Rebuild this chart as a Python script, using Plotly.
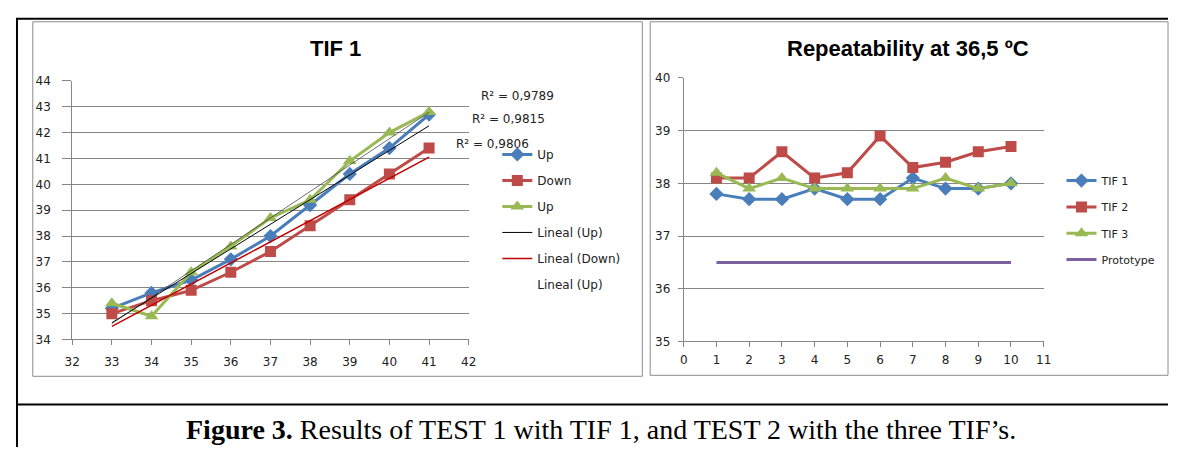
import numpy as np
import plotly.graph_objects as go

# figure sits inside the page's default 8px body margin
W, H = 1168, 446
OFF = 8

# ---- data: TIF 1 (TEST 1) ----
t1_x = [33, 34, 35, 36, 37, 38, 39, 40, 41]
up1 = [35.2, 35.8, 36.3, 37.1, 38.0, 39.2, 40.4, 41.4, 42.7]
down1 = [35.0, 35.5, 35.9, 36.6, 37.4, 38.4, 39.4, 40.4, 41.4]
up2 = [35.4, 34.9, 36.6, 37.6, 38.7, 39.4, 40.9, 42.0, 42.8]
r2_labels = ["R² = 0,9789", "R² = 0,9815", "R² = 0,9806"]

# ---- data: Repeatability (TEST 2) ----
rep_x = [1, 2, 3, 4, 5, 6, 7, 8, 9, 10]
tif1 = [37.8, 37.7, 37.7, 37.9, 37.7, 37.7, 38.1, 37.9, 37.9, 38.0]
tif2 = [38.1, 38.1, 38.6, 38.1, 38.2, 38.9, 38.3, 38.4, 38.6, 38.7]
tif3 = [38.2, 37.9, 38.1, 37.9, 37.9, 37.9, 37.9, 38.1, 37.9, 38.0]
prototype = [36.5] * 10

BLUE = "#4A7EBB"
RED = "#BE4B48"
GREEN = "#98B954"
PURPLE = "#7D60A0"
GRID = "#868686"
FONT = "DejaVu Sans"
TXT = "#222222"


def px(x):
    return (x - OFF) / W


def py(y):
    return 1 - (y - OFF) / H


def trend(x, y):
    k, b = np.polyfit(x, y, 1)
    xs = np.array(x, dtype=float)
    return list(xs), list(k * xs + b)


fig = go.Figure()

# Left chart traces
fig.add_trace(go.Scatter(x=t1_x, y=up1, name="Up", mode="lines+markers",
                         line=dict(color=BLUE, width=3),
                         marker=dict(symbol="diamond", size=11, color=BLUE),
                         xaxis="x", yaxis="y", legend="legend", legendgroup="a"))
fig.add_trace(go.Scatter(x=t1_x, y=down1, name="Down", mode="lines+markers",
                         line=dict(color=RED, width=3),
                         marker=dict(symbol="square", size=11, color=RED),
                         xaxis="x", yaxis="y", legend="legend", legendgroup="b"))
fig.add_trace(go.Scatter(x=t1_x, y=up2, name="Up", mode="lines+markers",
                         line=dict(color=GREEN, width=3),
                         marker=dict(symbol="triangle-up", size=12, color=GREEN),
                         xaxis="x", yaxis="y", legend="legend", legendgroup="c"))
tx, ty = trend(t1_x, up1)
fig.add_trace(go.Scatter(x=tx, y=ty, name="Lineal (Up)", mode="lines",
                         line=dict(color="#000000", width=1),
                         xaxis="x", yaxis="y", legend="legend", legendgroup="d"))
tx, ty = trend(t1_x, down1)
fig.add_trace(go.Scatter(x=tx, y=ty, name="Lineal (Down)", mode="lines",
                         line=dict(color="#C00000", width=1.5),
                         xaxis="x", yaxis="y", legend="legend", legendgroup="e"))
tx, ty = trend(t1_x, up2)
fig.add_trace(go.Scatter(x=tx, y=ty, name="Lineal (Up)", mode="lines",
                         line=dict(color="#333333", width=0.7),
                         xaxis="x", yaxis="y", showlegend=False, legendgroup="f"))
fig.add_trace(go.Scatter(x=[None], y=[None], name="Lineal (Up)", mode="lines",
                         line=dict(color="rgba(0,0,0,0)", width=1),
                         xaxis="x", yaxis="y", legend="legend", legendgroup="f"))

# Right chart traces
fig.add_trace(go.Scatter(x=rep_x, y=tif1, name="TIF 1", mode="lines+markers",
                         line=dict(color=BLUE, width=3),
                         marker=dict(symbol="diamond", size=11, color=BLUE),
                         xaxis="x2", yaxis="y2", legend="legend2", legendgroup="g"))
fig.add_trace(go.Scatter(x=rep_x, y=tif2, name="TIF 2", mode="lines+markers",
                         line=dict(color=RED, width=3),
                         marker=dict(symbol="square", size=11, color=RED),
                         xaxis="x2", yaxis="y2", legend="legend2", legendgroup="h"))
fig.add_trace(go.Scatter(x=rep_x, y=tif3, name="TIF 3", mode="lines+markers",
                         line=dict(color=GREEN, width=3),
                         marker=dict(symbol="triangle-up", size=12, color=GREEN),
                         xaxis="x2", yaxis="y2", legend="legend2", legendgroup="i"))
fig.add_trace(go.Scatter(x=rep_x, y=prototype, name="Prototype", mode="lines",
                         line=dict(color=PURPLE, width=3),
                         xaxis="x2", yaxis="y2", legend="legend2", legendgroup="j"))

axis_common = dict(showline=True, linecolor=GRID, linewidth=1, ticks="outside",
                   tickcolor=GRID,
                   tickfont=dict(family=FONT, size=12, color=TXT), zeroline=False)

fig.update_layout(
    width=W, height=H,
    margin=dict(l=0, r=0, t=0, b=0),
    paper_bgcolor="white", plot_bgcolor="white",
    font=dict(family=FONT, size=11, color=TXT),
    xaxis=dict(domain=[px(65), px(467)], range=[32, 42], dtick=1, showgrid=False,
               anchor="y", ticklen=5, ticklabelstandoff=6, **axis_common),
    yaxis=dict(domain=[py(343), py(76)], range=[34, 44], dtick=1, showgrid=True,
               gridcolor=GRID, gridwidth=1, anchor="x", ticklen=9,
               ticklabelstandoff=9, **axis_common),
    xaxis2=dict(domain=[px(685), px(1050)], range=[0, 11], dtick=1, showgrid=False,
                anchor="y2", ticklen=5, ticklabelstandoff=2, **axis_common),
    yaxis2=dict(domain=[py(345), py(73)], range=[35, 40], dtick=1, showgrid=True,
                gridcolor=GRID, gridwidth=1, anchor="x2", ticklen=5,
                ticklabelstandoff=5, **axis_common),
    legend=dict(x=px(496), y=py(137), xanchor="left", yanchor="top",
                font=dict(family=FONT, size=12, color=TXT),
                tracegroupgap=7, bgcolor="rgba(0,0,0,0)"),
    legend2=dict(x=px(1068), y=py(164), xanchor="left", yanchor="top",
                 font=dict(family=FONT, size=11, color=TXT),
                 tracegroupgap=7.3, bgcolor="rgba(0,0,0,0)"),
    showlegend=True,
)

shapes = []
# chart boxes
shapes.append(dict(type="rect", xref="paper", yref="paper",
                   x0=px(25), x1=px(643), y0=py(381), y1=py(15),
                   line=dict(color="#8C8C8C", width=1)))
shapes.append(dict(type="rect", xref="paper", yref="paper",
                   x0=px(651), x1=px(1176), y0=py(380), y1=py(15),
                   line=dict(color="#8C8C8C", width=1)))
# black frame
shapes.append(dict(type="line", xref="paper", yref="paper",
                   x0=0, x1=1, y0=py(12), y1=py(12), line=dict(color="black", width=2)))
shapes.append(dict(type="line", xref="paper", yref="paper",
                   x0=0, x1=1, y0=py(410), y1=py(410), line=dict(color="black", width=2)))
shapes.append(dict(type="line", xref="paper", yref="paper",
                   x0=px(9), x1=px(9), y0=py(11), y1=0, line=dict(color="black", width=2)))
fig.update_layout(shapes=shapes)

ann = []
ann.append(dict(text="<b>TIF 1</b>", x=px(332), y=py(43), xref="paper", yref="paper",
                xanchor="center", yanchor="middle", showarrow=False,
                font=dict(family="Liberation Sans", size=22, color="black")))
ann.append(dict(text="<b>Repeatability at 36,5 ºC</b>", x=px(912), y=py(43), xref="paper",
                yref="paper", xanchor="center", yanchor="middle", showarrow=False,
                font=dict(family="Liberation Sans", size=22, color="black")))
for lab, xx, yy in zip(r2_labels, [477, 468, 452], [92, 115, 141]):
    ann.append(dict(text=lab, x=px(xx), y=py(yy), xref="paper", yref="paper",
                    xanchor="left", yanchor="middle", showarrow=False,
                    font=dict(family=FONT, size=12, color=TXT)))
ann.append(dict(text="<b>Figure 3.</b> Results of TEST 1 with TIF 1, and TEST 2 with the three TIF’s.",
                x=px(601), y=0, xref="paper", yref="paper",
                xanchor="center", yanchor="bottom", showarrow=False,
                font=dict(family="Liberation Serif", size=28, color="black")))
fig.update_layout(annotations=ann)

fig.write_html("out.html", config={"displayModeBar": False})
